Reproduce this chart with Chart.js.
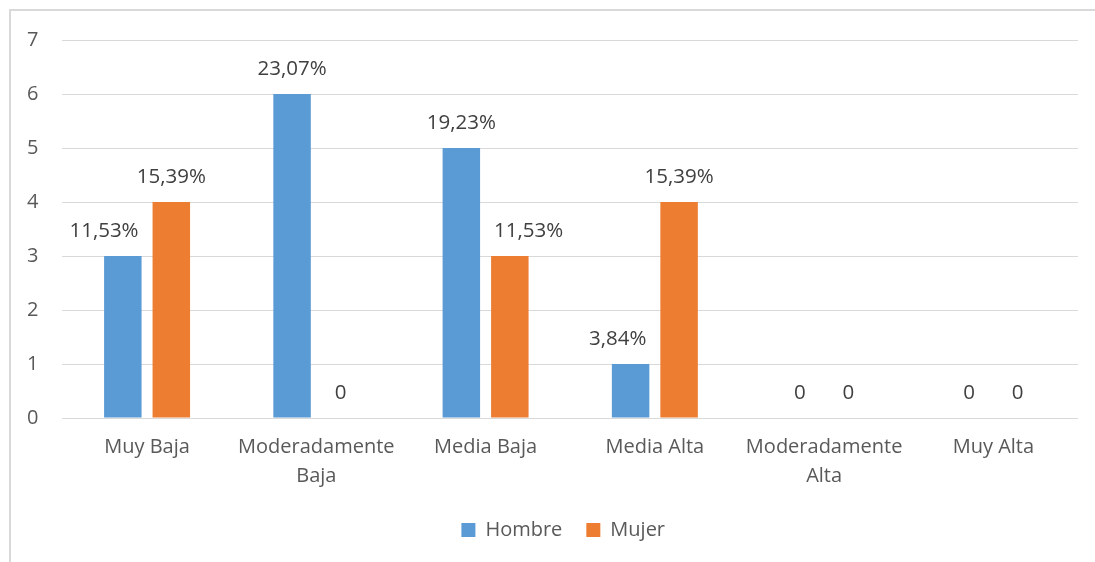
<!DOCTYPE html>
<html>
<head>
<meta charset="utf-8">
<script src="https://cdn.jsdelivr.net/npm/chart.js@4"></script>
<style>
  html, body { margin: 0; padding: 0; background: #fff; overflow: hidden; }
  #wrap { position: relative; width: 1095px; height: 562px; }
  #frame { position: absolute; left: 9px; top: 9px; width: 1200px; height: 700px;
           border-left: 2px solid #d9d9d9; border-top: 2px solid #d9d9d9; }
  canvas { position: absolute; left: 0; top: 0; }
</style>
</head>
<body>
<div id="wrap">
  <div id="frame"></div>
  <canvas id="chart" width="1095" height="562"></canvas>
</div>
<script>
// --- Data ---
const categories = ['Muy Baja', ['Moderadamente', 'Baja'], 'Media Baja', 'Media Alta', ['Moderadamente', 'Alta'], 'Muy Alta'];
const hombre = [3, 6, 5, 1, 0, 0];
const mujer = [4, 0, 3, 4, 0, 0];
const hombreLabels = ['11,53%', '23,07%', '19,23%', '3,84%', '0', '0'];
const mujerLabels = ['15,39%', '0', '11,53%', '15,39%', '0', '0'];
const yTicks = [0, 1, 2, 3, 4, 5, 6, 7];

const FONT = "'Open Sans', sans-serif";

// --- Bar labels (drawn above each bar, nudged sideways if they hit the neighbour bar) ---
const barLabels = {
    id: 'barLabels',
    afterLayout(chart) {
        // legend sits a bit left of the plot centre in the original
        chart.legend.left -= 7;
        chart.legend.right -= 7;
    },
    afterDatasetsDraw(chart) {
        const ctx = chart.ctx;
        const texts = [hombreLabels, mujerLabels];
        const gap = 14;
        ctx.save();
        ctx.font = '20.5px ' + FONT;
        ctx.fillStyle = '#404040';
        ctx.textAlign = 'center';
        ctx.textBaseline = 'middle';
        chart.data.datasets.forEach((ds, di) => {
            const meta = chart.getDatasetMeta(di);
            const other = chart.getDatasetMeta(1 - di);
            meta.data.forEach((bar, i) => {
                const txt = texts[di][i];
                const w = ctx.measureText(txt).width;
                let x = bar.x;
                const y = bar.y - 25;
                const ob = other.data[i];
                const oLeft = ob.x - ob.width / 2, oRight = ob.x + ob.width / 2;
                const hitsVert = y + 10 > ob.y && ob.y < ob.base;
                if (hitsVert) {
                    if (di === 0 && x + w / 2 + gap > oLeft) x = oLeft - gap - w / 2;
                    if (di === 1 && x - w / 2 - gap < oRight) x = oRight + gap + w / 2;
                }
                ctx.fillText(txt, x, y);
            });
        });
        ctx.restore();
    }
};

// --- Chart ---
const ctx = document.getElementById('chart').getContext('2d');
new Chart(ctx, {
    type: 'bar',
    data: {
        labels: categories,
        datasets: [
            { label: 'Hombre', data: hombre, backgroundColor: '#5B9BD5' },
            { label: 'Mujer', data: mujer, backgroundColor: '#ED7D31' }
        ]
    },
    options: {
        responsive: false,
        animation: false,
        devicePixelRatio: 1,
        datasets: { bar: { barPercentage: 0.773, categoryPercentage: 0.573 } },
        layout: { padding: { left: 3, right: 17, top: 40, bottom: 12 } },
        scales: {
            x: {
                grid: { display: false, drawTicks: false },
                border: { display: false },
                ticks: { color: '#595959', font: { family: FONT, size: 20, lineHeight: 1.45 }, padding: 15, maxRotation: 0 },
                afterFit: (axis) => { axis.height -= 10; }
            },
            y: {
                min: 0, max: 7,
                afterBuildTicks: (axis) => { axis.ticks = yTicks.map(v => ({ value: v })); },
                grid: { color: '#d9d9d9', lineWidth: 1, drawTicks: false },
                border: { display: false },
                ticks: { color: '#595959', font: { family: FONT, size: 20 }, padding: 24 }
            }
        },
        plugins: {
            legend: {
                position: 'bottom',
                fullSize: false,
                labels: {
                    color: '#595959',
                    font: { family: FONT, size: 20 },
                    boxWidth: 14, boxHeight: 14,
                    padding: 24
                }
            },
            tooltip: { enabled: false }
        }
    },
    plugins: [barLabels]
});
</script>
</body>
</html>
